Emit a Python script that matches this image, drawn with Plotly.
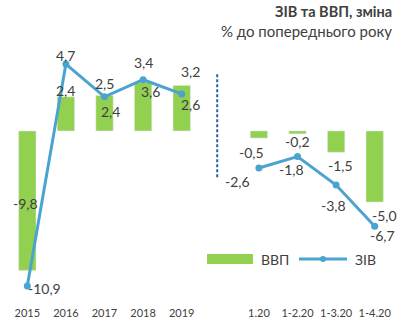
import plotly.graph_objects as go

# Categories (blank slot separates annual and monthly data)
categories = ["2015", "2016", "2017", "2018", "2019", " ", "1.20", "1-2.20", "1-3.20", "1-4.20"]
gdp = [-9.8, 2.4, 2.5, 3.4, 3.2, None, -0.5, -0.2, -1.5, -5.0]
ziv = [-10.9, 4.7, 2.4, 3.6, 2.6, None, -2.6, -1.8, -3.8, -6.7]

gdp_labels = ["-9,8", "2,4", "2,5", "3,4", "3,2", None, "-0,5", "-0,2", "-1,5", "-5,0"]
ziv_labels = ["-10,9", "4,7", "2,4", "3,6", "2,6", None, "-2,6", "-1,8", "-3,8", "-6,7"]

# label offsets in pixels (x, y) relative to the mark end
gdp_shift = [(-2, 67), (0, 6), (0, 12), (0, 20), (9, 14), None, (-7, -14), (0, -8), (4, -13), (10, -13)]
ziv_shift = [(17, -2), (0, 9), (6, -15), (7, -12), (9, -11), None, (-21, -14), (-6, -13), (-3, -20), (8, -9)]

GREEN = "#92D050"
BLUE = "#4BA3CF"
TEXT = "#404040"
FONT = "Lato, 'Open Sans', sans-serif"

W, H = 412, 327
ML, MR, MT, MB = 8, 18, 45, 22
Y_RANGE = [-12.23, 6.04]

fig = go.Figure()
fig.add_trace(go.Bar(x=categories, y=gdp, name="ВВП", marker_color=GREEN, width=0.45,
                     showlegend=False))
fig.add_trace(go.Scatter(x=categories, y=ziv, name="ЗІВ", mode="lines+markers",
                         line=dict(color=BLUE, width=3), marker=dict(color=BLUE, size=7),
                         connectgaps=False, showlegend=False))

annotations = []
for series, labels, shifts in ((gdp, gdp_labels, gdp_shift), (ziv, ziv_labels, ziv_shift)):
    for i, (v, t, s) in enumerate(zip(series, labels, shifts)):
        if v is None:
            continue
        # category positions are given by index so numeric-looking names stay categorical
        annotations.append(dict(x=i, y=v, text=t, showarrow=False, xshift=s[0], yshift=s[1],
                                font=dict(size=14, color=TEXT, family=FONT)))

pw, ph = W - ML - MR, H - MT - MB


def px(x):
    return (x - ML) / pw


def py(y):
    return (H - MB - y) / ph


# Title
annotations.append(dict(xref="paper", yref="paper", x=px(394), y=py(11), xanchor="right",
                        yanchor="middle", text="<b>ЗІВ та ВВП, зміна</b>", showarrow=False,
                        font=dict(size=14.5, color=TEXT, family=FONT)))
annotations.append(dict(xref="paper", yref="paper", x=px(394), y=py(31), xanchor="right",
                        yanchor="middle", text="% до попереднього року", showarrow=False,
                        font=dict(size=15, color=TEXT, family=FONT)))

# Legend
shapes = [
    dict(type="rect", xref="paper", yref="paper", x0=px(207), x1=px(253), y0=py(264), y1=py(254),
         fillcolor=GREEN, line=dict(width=0)),
    dict(type="line", xref="paper", yref="paper", x0=px(299), x1=px(347), y0=py(259), y1=py(259),
         line=dict(color=BLUE, width=3)),
    dict(type="circle", xref="paper", yref="paper", x0=px(320), x1=px(326), y0=py(262), y1=py(256),
         fillcolor=BLUE, line=dict(width=0)),
    # divider between annual and monthly data
    dict(type="line", xref="x", yref="y", x0=4.92, x1=4.92, y0=-3.25, y1=4.1,
         line=dict(color="#2E5FA8", width=2, dash="3px,2px")),
]
annotations.append(dict(xref="paper", yref="paper", x=px(259), y=py(259), xanchor="left",
                        yanchor="middle", text="ВВП", showarrow=False,
                        font=dict(size=14, color=TEXT, family=FONT)))
annotations.append(dict(xref="paper", yref="paper", x=px(353), y=py(259), xanchor="left",
                        yanchor="middle", text="ЗІВ", showarrow=False,
                        font=dict(size=14, color=TEXT, family=FONT)))

fig.update_layout(
    width=W, height=H,
    margin=dict(l=ML, r=MR, t=MT, b=MB),
    paper_bgcolor="white", plot_bgcolor="white",
    annotations=annotations, shapes=shapes,
    xaxis=dict(type="category", categoryorder="array", categoryarray=categories,
               range=[-0.5, 9.5], showgrid=False, showline=False, zeroline=False, ticks="",
               tickfont=dict(size=11, color=TEXT, family=FONT)),
    yaxis=dict(range=Y_RANGE, visible=False, showgrid=False, zeroline=False),
    bargap=0.5,
)

fig.write_html("out.html")
